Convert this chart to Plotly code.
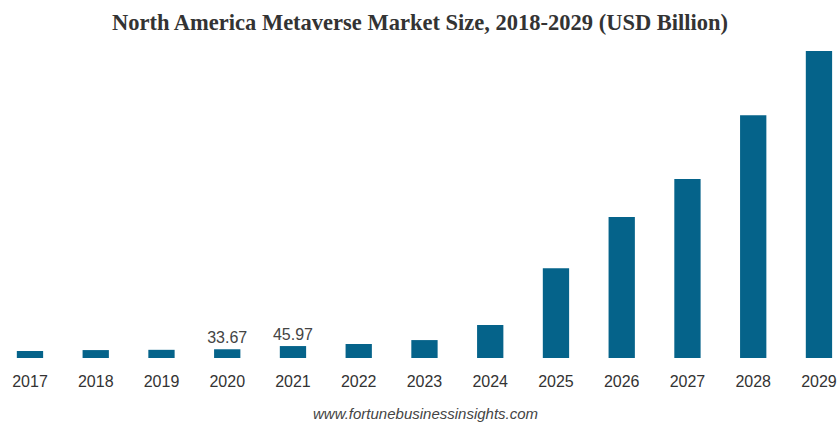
import plotly.graph_objects as go

years = ["2017", "2018", "2019", "2020", "2021", "2022", "2023",
         "2024", "2025", "2026", "2027", "2028", "2029"]
market_size = [27.0, 30.5, 31.5, 33.67, 45.97, 54.0, 69.0,
               127.0, 346.0, 543.0, 689.0, 935.0, 1182.0]
value_labels = ["", "", "", "33.67", "45.97", "", "",
                "", "", "", "", "", ""]

title_text = "North America Metaverse Market Size, 2018-2029 (USD Billion)"
source_text = "www.fortunebusinessinsights.com"

fig = go.Figure(
    go.Bar(
        x=years,
        y=market_size,
        text=value_labels,
        textposition="outside",
        constraintext="none",
        textfont=dict(family="Liberation Sans, Arial, sans-serif", size=16, color="#444444"),
        cliponaxis=False,
        marker=dict(color="#05638A", line=dict(width=0)),
        hoverinfo="x+y",
    )
)

fig.update_layout(
    width=840,
    height=424,
    margin=dict(l=0, r=0, t=50, b=66),
    paper_bgcolor="white",
    plot_bgcolor="white",
    bargap=0.6,
    showlegend=False,
    title=dict(
        text="<b>" + title_text + "</b>",
        x=0.5,
        xanchor="center",
        y=0.947,
        yanchor="middle",
        font=dict(family="Liberation Serif, Times New Roman, serif", size=22.5, color="#333333"),
    ),
    xaxis=dict(
        type="category",
        range=[-0.456, 12.32],
        showgrid=False,
        showline=False,
        zeroline=False,
        ticks="",
        ticklabelstandoff=12,
        tickfont=dict(family="Liberation Sans, Arial, sans-serif", size=16, color="#333333"),
    ),
    yaxis=dict(
        range=[0, 1186],
        visible=False,
        showgrid=False,
        zeroline=False,
    ),
    annotations=[
        dict(
            text="<i>" + source_text + "</i>",
            x=0.506,
            y=-(413 - 358) / 308,
            xref="paper",
            yref="paper",
            xanchor="center",
            yanchor="middle",
            showarrow=False,
            font=dict(family="Liberation Sans, Arial, sans-serif", size=15, color="#444444"),
        )
    ],
)

fig.write_html("out.html")
